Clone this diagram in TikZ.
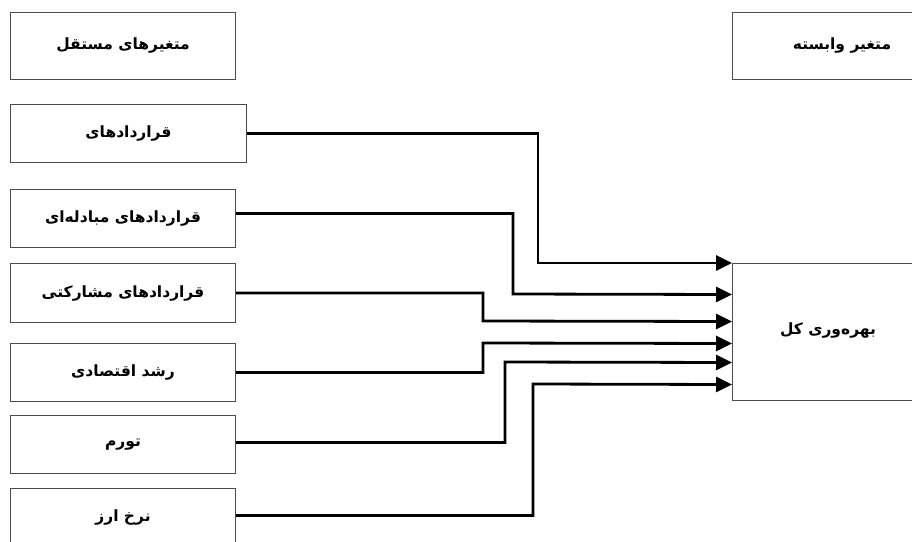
\documentclass[tikz,border=0pt]{standalone}
\usepackage{fontspec}
\usetikzlibrary{arrows.meta}
\TeXXeTstate=1
\newfontfamily\fa[Script=Arabic]{DejaVu Sans}
\newcommand{\fatext}[1]{\fa\bfseries\beginR #1\endR}
\tikzset{
  box/.style={draw=gray!60!black, line width=1pt, fill=white, anchor=north west,
    minimum height=58pt, inner sep=0pt, font=\fontsize{15.5}{18}\selectfont},
  lbl/.style={font=\fontsize{15.5}{18}\selectfont},
  conn/.style={line width=2.8pt, -{Triangle[length=16pt,width=15pt]}}
}
\begin{document}
\begin{tikzpicture}[x=1pt,y=-1pt]
\useasboundingbox (0,0) rectangle (912,541);
\clip (0,0) rectangle (912,541);
% headers
\node[box, minimum width=225pt, minimum height=67pt] (h1) at (10,12) {\fatext{متغیرهای مستقل}};
\node[box, minimum width=220pt, minimum height=67pt] (h2) at (732,12) {};
\node[lbl] at (842,45.5) (h2t) {\fatext{متغیر وابسته}};
% independent variables
\node[box, minimum width=236pt] (b1) at (10,104) {\fatext{قراردادهای}};
\node[box, minimum width=225pt] (b2) at (10,189) {\fatext{قراردادهای مبادله‌ای}};
\node[box, minimum width=225pt, minimum height=59pt] (b3) at (10,263) {\fatext{قراردادهای مشارکتی}};
\node[box, minimum width=225pt] (b4) at (10,343) {\fatext{رشد اقتصادی}};
\node[box, minimum width=225pt] (b5) at (10,415) {\fatext{تورم}};
\node[box, minimum width=225pt] (b6) at (10,488) {\fatext{نرخ ارز}};
% dependent variable
\node[box, minimum width=198pt, minimum height=137pt] (r) at (732,263) {};
\node[lbl] at (828,331) (rt) {\fatext{بهره‌وری کل}};
% connectors
\draw[conn] (b1.east) -| (538,263) -- (r.north west);
\draw[conn] ([yshift=5pt]b2.east) -| (513,294) -- ([yshift=37.5pt]r.west);
\draw[conn] (b3.east) -| (483,321) -- ([yshift=10.5pt]r.west);
\draw[conn] (b4.east) -| (483,343) -- ([yshift=-11.5pt]r.west);
\draw[conn] ([yshift=2pt]b5.east) -| (505,362) -- ([yshift=-30.5pt]r.west);
\draw[conn] ([yshift=2pt]b6.east) -| (533,384) -- ([yshift=-52.5pt]r.west);
\end{tikzpicture}
\end{document}
